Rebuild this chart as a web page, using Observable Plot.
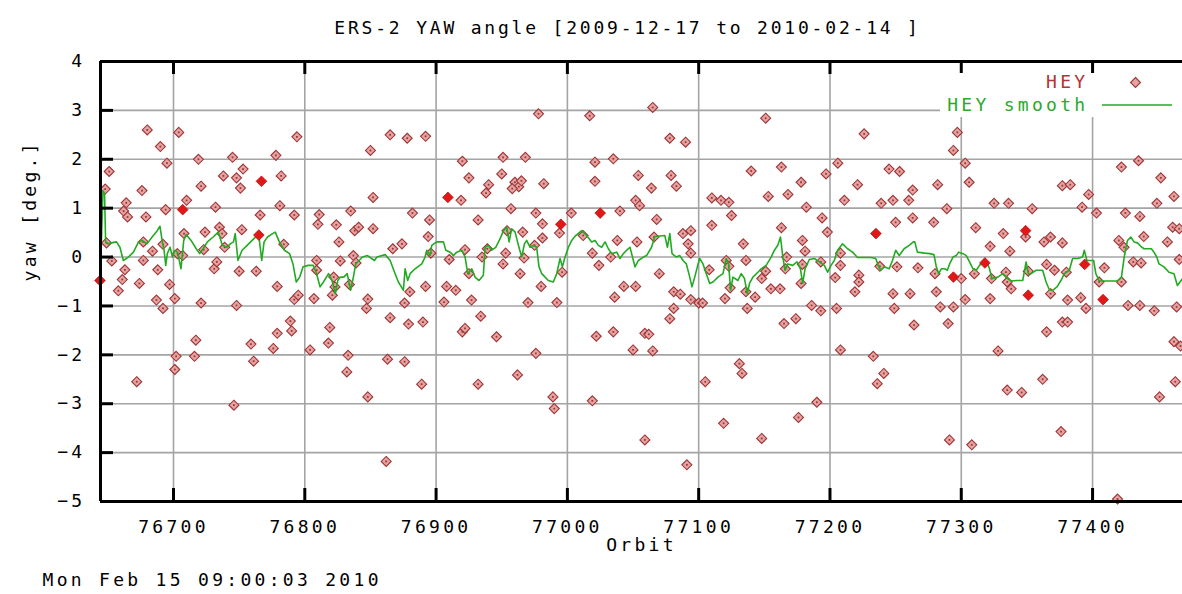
<!DOCTYPE html>
<html>
<head>
<meta charset="utf-8">
<script src="https://cdn.jsdelivr.net/npm/d3@7"></script>
<script src="https://cdn.jsdelivr.net/npm/@observablehq/plot@0.6"></script>
<style>
  html, body { margin: 0; padding: 0; background: #fff; }
  #chart { width: 1182px; height: 594px; overflow: hidden; }
</style>
</head>
<body>
<div id="chart"></div>
<script>
const titleText = "ERS-2 YAW angle [2009-12-17 to 2010-02-14 ]";
const xLabel = "Orbit";
const yLabel = "yaw [deg.]";
const stampText = "Mon Feb 15 09:00:03 2010";
const legendPoints = "HEY";
const legendSmooth = "HEY smooth";

const xTicks = [76700, 76800, 76900, 77000, 77100, 77200, 77300, 77400];
const yTicks = [-5, -4, -3, -2, -1, 0, 1, 2, 3, 4];
const xDomain = [76644.4, 77468.5];
const yDomain = [-5, 4];

// HEY points (orbit, yaw)
const heyOrbit = [
76680,76704,76690,76695,76651,76794,76719,76745,76778,76738,76748,76753,76782,76721,76751,76648,76676,76710,76664,76662,
76665,76679,76694,76732,76781,76766,76792,76708,76724,76735,76752,76784,76649,76677,76692,76684,76703,76707,76723,76739,
76737,76653,76677,76688,76663,76661,76658,76674,76697,76701,76687,76692,76721,76731,76733,76750,76763,76779,76748,76792,
76795,76717,76702,76716,76701,76672,76759,76761,76776,76779,76789,76790,76746,76804,76818,76819,76833,76832,76848,76850,
76852,76835,76811,76810,76824,76838,76841,76826,76852,76809,76827,76837,76839,76807,76848,76847,76822,76823,76821,76834,
76809,
76865,76878,76892,76882,76895,76894,76867,76874,76896,76880,76892,76876,76865,76879,76890,76863,76876,76889,76862,76978,
77017,76920,76951,76968,76925,76950,76940,76938,76960,76963,76965,76958,76982,76919,76957,76976,76932,76981,77003,77040,
77021,77035,77021,77054,77052,77055,76981,76966,76954,76975,76939,76922,76953,76910,76951,76967,76925,76935,76964,76996,
76994,77012,77019,77024,77033,77038,77053,76908,76915,76906,76927,76980,76970,76992,77043,77052,77036,76934,76920,76922,
76946,77022,77035,77050,77059,76976,76932,76962,76989,76990,77019,77059,
77065,77078,77090,77151,77226,77064,77079,77083,77068,77140,77163,77178,77153,77168,77197,77110,77117,77123,77125,77182,
77206,77221,77211,77245,77253,77239,77248,77260,77263,77194,77198,77110,77088,77094,77092,77094,77066,77163,77134,77179,
77181,77250,77263,77208,77070,77108,77121,77123,77136,77151,77148,77167,77166,77155,77162,77179,77178,77193,77124,77136,
77120,77143,77137,77081,77086,77094,77100,77103,77081,77078,77062,77065,77165,77174,77186,77193,77205,77204,77208,77219,
77222,77222,77238,77251,77248,77249,77261,77264,77208,77233,77241,77236,77131,77133,77105,77190,77176,77119,77148,77091,
77297,77294,77303,77306,77282,77289,77279,77311,77325,77336,77354,77377,77383,77397,77392,77403,77422,77435,77452,77462,
77449,77425,77436,77439,77461,77466,77457,77420,77424,77332,77349,77322,77337,77363,77368,77377,77267,77280,77300,77310,
77323,77334,77335,77338,77351,77365,77371,77380,77368,77409,77405,77422,77431,77437,77466,77281,77284,77294,77303,77322,
77381,77391,77395,77427,77436,77447,77464,77290,77365,77377,77381,77328,77462,77467,77362,77335,77346,77451,77463,77376,
77291,77308,77419
];
const heyYaw = [
2.60,2.55,2.26,1.92,1.75,2.46,2.00,2.04,2.08,1.66,1.62,1.80,1.66,1.45,1.41,1.39,1.36,1.16,1.11,0.94,
0.82,0.82,0.97,1.02,1.05,0.86,0.86,0.48,0.51,0.61,0.56,0.26,0.29,0.31,0.26,0.12,0.07,0.03,0.15,0.20,
0.48,-0.08,-0.07,-0.26,-0.26,-0.46,-0.69,-0.54,-0.56,-0.85,-0.88,-1.05,-0.94,-0.24,-0.10,-0.29,-0.29,-0.60,-0.99,-0.87,
-0.78,-1.70,-2.03,-2.03,-2.30,-2.55,-1.78,-2.13,-1.87,-1.56,-1.31,-1.51,-3.03,-1.90,-1.76,-1.44,-2.01,-2.35,-2.86,2.18,
1.22,0.94,0.87,0.67,0.66,0.54,0.61,0.31,0.58,-0.07,-0.08,0.03,-0.12,-0.85,-0.86,-1.05,-0.41,-0.61,-0.78,-0.56,
-0.27,
2.50,2.43,2.47,0.90,0.76,0.42,0.17,0.27,0.08,-0.71,-0.60,-0.94,-1.24,-1.37,-1.33,-2.09,-2.14,-2.60,-4.18,2.93,
2.89,1.96,2.04,2.04,1.62,1.70,1.48,1.31,1.53,1.44,1.56,1.40,1.50,1.16,0.99,0.90,0.76,0.68,0.90,0.94,
1.94,2.01,1.55,1.67,1.16,1.05,0.39,0.51,0.54,0.24,0.17,0.15,0.08,-0.05,-0.14,-0.02,-0.34,0.00,-0.34,-0.31,
0.49,0.44,0.08,-0.17,0.00,0.34,0.31,-0.60,-0.68,-0.92,-0.88,-0.60,-0.93,-0.93,-0.60,-0.60,-0.82,-1.21,-1.53,-1.46,
-1.63,-1.62,-1.53,-1.90,-1.56,-1.97,-2.60,-2.41,-2.86,-3.10,-2.94,-3.74,
3.06,2.43,2.35,2.84,2.52,1.41,1.67,1.45,0.77,1.76,1.84,1.53,1.24,1.28,1.70,1.21,1.16,1.12,0.85,1.02,
1.92,1.48,1.16,1.80,1.75,1.10,1.16,1.16,1.37,0.80,0.51,0.65,0.48,0.54,0.27,0.08,0.41,0.60,0.27,0.34,
0.12,0.71,0.80,0.08,-0.34,-0.26,-0.07,-0.19,-0.07,-0.29,-0.44,0.00,-0.24,-0.65,-0.65,-0.15,-0.54,-0.10,-0.63,-0.71,
-0.85,-0.82,-1.05,-0.71,-0.76,-0.87,-0.94,-0.94,-1.05,-1.26,-1.58,-1.92,-1.36,-1.26,-0.99,-1.10,-1.05,-0.42,-0.17,-0.71,
-0.37,-0.51,-0.19,-0.20,-0.75,-1.05,-0.75,-1.39,-1.90,-2.03,-2.38,-2.59,-2.18,-2.38,-2.55,-2.97,-3.28,-3.40,-3.71,-4.25,
2.55,2.18,1.92,1.53,1.48,0.99,0.71,0.60,1.10,1.10,0.99,1.46,1.48,1.28,1.02,0.90,1.84,1.97,1.62,1.24,
1.10,0.90,0.83,0.42,0.61,0.58,0.31,0.34,0.20,0.48,0.41,0.22,0.12,0.31,0.41,0.29,-0.22,-0.34,-0.44,-0.34,
-0.44,-0.31,-0.51,-0.65,-0.29,-0.15,-0.27,-0.31,-0.75,-0.22,-0.51,-0.51,-0.10,-0.12,-0.05,-0.71,-1.02,-1.02,-0.87,-0.85,
-0.88,-0.83,-1.05,-0.99,-0.99,-1.10,-1.02,-1.36,-1.53,-1.33,-1.33,-1.92,-1.73,-1.82,-2.50,-2.72,-2.77,-2.86,-2.55,-3.57,
-3.74,-3.84,-4.95
];

// solid (filled) HEY points
const filledOrbit = [76644,76707,76765,76767,76909,76995,77025,77235,77294,77318,77349,77351,77394,77408];
const filledYaw   = [-0.48,0.97,0.45,1.55,1.22,0.67,0.90,0.48,-0.41,-0.12,0.54,-0.78,-0.15,-0.87];

// HEY smooth line
const smoothOrbit = [
76644.2,76646.3,76647.5,76648.3,76650.1,76652.7,76656.6,76659.2,76661.8,76665.6,76669.5,76673.4,76676.0,76679.8,76683.7,
76687.6,76689.7,76691.5,76692.8,76694.1,76695.3,76697.4,76699.2,76701.0,76703.1,76705.7,76707.8,76709.6,76713.4,76717.3,
76719.9,76723.3,76725.8,76730.2,76734.1,76737.2,76740.6,76743.2,76745.7,76747.0,76749.1,76752.2,76756.1,76759.9,76762.5,
76765.1,76767.2,76769.0,76771.6,76775.5,76777.5,76780.6,76784.5,76788.4,76791.0,76793.5,76796.1,76798.7,76802.6,76806.5,
76809.0,76811.6,76814.2,76818.1,76820.7,76823.3,76825.1,76827.1,76829.7,76832.3,76834.9,76837.0,76838.8,76841.3,76843.9,
76847.8,76853.0,
76855.0,76861.2,76865.0,76868.8,76871.3,76875.1,76876.4,76878.4,76880.2,76884.0,76889.1,76891.6,76892.9,76895.4,76896.7,
76900.5,76905.6,76907.4,76910.7,76913.2,76915.7,76919.5,76922.1,76924.1,76927.2,76929.7,76932.7,76936.0,76937.3,76939.8,
76942.4,76945.4,76948.7,76951.3,76953.8,76955.6,76957.6,76960.2,76962.7,76965.2,76967.3,76969.0,76971.6,76974.1,76976.6,
76978.4,76980.5,76983.0,76985.5,76989.3,76991.9,76994.4,76996.2,76998.2,77000.8,77003.3,77006.3,77010.9,77014.7,77018.5,
77021.1,77023.6,77026.1,77028.7,77031.2,77033.8,77037.6,77040.1,77042.6,77045.2,77047.7,77051.5,77054.1,77057.9,
77060.3,77064.1,77066.6,77070.4,77074.2,77076.2,77078.0,77079.7,77083.0,77085.6,77088.1,77090.6,77093.2,77094.9,77097.0,
77099.0,77100.8,77103.3,77105.8,77108.4,77110.9,77114.7,77118.5,77121.0,77122.8,77124.3,77126.1,77129.9,77132.4,77134.9,
77137.0,77138.7,77141.3,77145.1,77147.6,77151.4,77155.2,77157.7,77160.3,77162.3,77164.1,77165.8,77167.8,77171.6,77174.9,
77177.5,77179.2,77181.0,77184.3,77188.1,77191.9,77195.7,77198.2,77200.8,77203.3,77205.8,77209.6,77213.4,77217.2,77221.0,
77224.8,77231.1,77234.9,77236.7,77238.7,77241.3,77245.1,77247.6,77250.1,77252.7,77256.5,77260.3,
77263.5,77264.6,77266.6,77272.2,77276.0,77279.2,77281.0,77282.8,77284.8,77287.3,77289.4,77291.1,77293.7,77296.2,77298.0,
77301.3,77303.8,77306.3,77308.9,77311.4,77313.9,77316.5,77319.0,77321.5,77323.3,77327.8,77331.6,77335.4,77338.0,77342.5,
77346.8,77349.4,77351.1,77353.2,77357.0,77362.0,77364.6,77367.1,77369.6,77372.9,77375.9,77378.5,77382.3,77384.8,77388.6,
77392.4,77393.7,77395.7,77397.5,77400.8,77402.5,77405.1,77408.9,77413.9,77419.0,77422.0,77424.1,77426.6,77429.1,77431.6,
77434.2,77436.7,77439.2,77442.3,77444.8,77446.8,77448.9,77450.6,77454.4,77458.2,77462.0,77464.6,77466.6,77468.6
];
const smoothYaw = [
-0.48,1.36,1.29,0.31,0.27,0.29,0.31,0.20,-0.07,0.00,0.10,0.31,0.34,0.27,0.41,
0.54,0.63,0.31,0.14,-0.17,0.07,0.20,0.00,0.14,0.10,-0.24,0.34,0.46,0.34,0.17,
0.07,0.20,0.31,0.41,0.51,0.24,0.20,0.27,0.31,0.48,-0.07,0.14,0.24,0.34,0.41,
0.41,-0.07,0.31,0.41,0.48,0.51,0.31,0.14,0.07,-0.14,-0.51,-0.41,-0.20,-0.17,-0.17,
-0.34,-0.61,-0.51,-0.34,-0.48,-0.75,-0.48,-0.41,-0.41,-0.34,-0.68,-0.41,-0.14,-0.07,0.00,
0.03,-0.07,
0.00,0.05,-0.07,-0.34,-0.51,-0.68,-0.24,-0.48,-0.34,-0.24,-0.14,0.00,0.14,0.03,0.24,
0.31,0.31,0.14,0.10,0.03,0.10,0.14,0.00,-0.34,-0.24,-0.41,-0.48,-0.37,0.20,0.24,
0.14,0.20,0.37,0.54,0.61,0.31,0.58,0.51,0.24,0.00,0.27,0.34,0.20,0.24,0.20,
-0.20,-0.34,-0.41,-0.48,-0.51,-0.34,-0.03,-0.20,0.00,0.20,0.34,0.44,0.54,0.44,0.31,
0.34,0.24,0.20,0.31,0.17,0.07,0.10,-0.03,0.07,0.14,0.20,-0.20,-0.07,0.00,
0.03,0.20,0.42,0.43,0.44,0.20,0.48,0.07,0.00,0.03,-0.07,-0.14,-0.41,-0.61,-0.41,
-0.20,-0.03,-0.14,-0.34,-0.54,-0.51,-0.41,-0.34,-0.03,-0.14,-0.68,-0.41,-0.48,-0.34,-0.44,
-0.75,-0.54,-0.41,-0.31,-0.24,-0.17,0.00,0.14,0.24,0.41,0.00,-0.27,-0.14,-0.17,-0.10,
-0.24,-0.54,-0.24,-0.05,-0.03,-0.10,-0.17,-0.31,-0.17,-0.07,0.14,0.27,0.17,0.10,-0.01,
-0.01,-0.01,-0.03,-0.17,-0.27,-0.20,-0.24,-0.07,0.14,0.03,0.17,0.24,
0.31,0.31,0.10,0.08,0.07,0.05,-0.20,-0.34,-0.24,-0.24,-0.27,-0.14,0.00,0.03,0.10,
0.07,0.03,-0.10,-0.24,-0.27,-0.17,-0.10,-0.07,-0.24,-0.44,-0.41,-0.34,-0.44,-0.49,-0.48,
-0.48,-0.10,-0.34,-0.34,-0.27,-0.27,-0.51,-0.67,-0.68,-0.61,-0.48,-0.34,-0.27,-0.03,-0.03,
0.00,0.14,-0.07,-0.07,-0.07,-0.34,-0.49,-0.49,-0.49,-0.49,-0.41,0.00,0.34,0.41,0.31,
0.29,0.22,0.17,0.17,0.17,0.10,0.00,-0.14,-0.20,-0.31,-0.34,-0.58,-0.51,-0.44
];

const hey = heyOrbit.map((o, i) => ({orbit: o, yaw: heyYaw[i]}));
const heyFilled = filledOrbit.map((o, i) => ({orbit: o, yaw: filledYaw[i]}));
const smooth = smoothOrbit.map((o, i) => ({orbit: o, yaw: smoothYaw[i]}));

const FONT = "DejaVu Sans Mono";
const FS = 18;
const LS = "3.3px";
const pointFill = "#e4a4a4";
const pointStroke = "#a03434";
const filledColor = "#e01818";
const smoothColor = "#22aa22";
const gridColor = "#a4a4a4";

const chart = Plot.plot({
  width: 1182,
  height: 594,
  marginLeft: 100,
  marginRight: 0,
  marginTop: 61,
  marginBottom: 93,
  style: {fontFamily: FONT, fontSize: FS + "px", background: "#fff"},
  x: {domain: xDomain, ticks: xTicks, tickFormat: "d"},
  y: {domain: yDomain, ticks: yTicks, tickFormat: "d"},
  marks: [
    Plot.gridX(xTicks, {stroke: gridColor, strokeOpacity: 1, strokeWidth: 1.6}),
    Plot.gridY(yTicks, {stroke: gridColor, strokeOpacity: 1, strokeWidth: 1.6}),
    Plot.axisX(xTicks, {anchor: "bottom", tickSize: 0, tickPadding: 19, tickFormat: "d", label: null}),
    Plot.axisY(yTicks, {anchor: "left", tickSize: 0, tickPadding: 15, tickFormat: "d", label: null}),
    Plot.dot(hey, {x: "orbit", y: "yaw", symbol: "diamond2", r: 4.5, fill: pointFill, stroke: pointStroke, strokeWidth: 1.1}),
    Plot.dot(hey, {x: "orbit", y: "yaw", symbol: "square", r: 1.0, fill: pointStroke}),
    Plot.line(smooth, {x: "orbit", y: "yaw", stroke: smoothColor, strokeWidth: 1.6, curve: "linear"}),
    Plot.dot(heyFilled, {x: "orbit", y: "yaw", symbol: "diamond2", r: 4.8, fill: filledColor, stroke: "#c01010", strokeWidth: 0.8}),
    // frame: bottom, top, left (right side lies beyond the image)
    Plot.ruleY(yDomain, {stroke: "black", strokeWidth: 3}),
    Plot.ruleX([xDomain[0]], {stroke: "black", strokeWidth: 3}),
    // inward tick marks
    Plot.tickX(xTicks, {x: d => d, insetTop: 427, stroke: "black", strokeWidth: 3}),
    Plot.tickX(xTicks, {x: d => d, insetBottom: 427, stroke: "black", strokeWidth: 3}),
    Plot.tickY(yTicks, {y: d => d, insetRight: 1069, stroke: "black", strokeWidth: 3}),
    // titles
    Plot.text([titleText], {frameAnchor: "top", lineAnchor: "middle", dx: -14, dy: -33}),
    Plot.text([xLabel], {frameAnchor: "bottom", lineAnchor: "middle", dy: 44}),
    Plot.text([yLabel], {frameAnchor: "left", lineAnchor: "middle", dx: -70, rotate: -90}),
    Plot.text([stampText], {frameAnchor: "bottom-left", lineAnchor: "middle", dx: -58, dy: 79, textAnchor: "start"}),
    // legend text and marker
    Plot.text([legendPoints], {frameAnchor: "top-right", lineAnchor: "middle", dx: -94, dy: 21, textAnchor: "end", fill: "#b23434"}),
    Plot.text([legendSmooth], {frameAnchor: "top-right", lineAnchor: "middle", dx: -94, dy: 44, textAnchor: "end", fill: "#2aaa2a"}),
    Plot.dot([0], {frameAnchor: "top-right", dx: -47, dy: 21, symbol: "diamond2", r: 4.5, fill: pointFill, stroke: pointStroke, strokeWidth: 1.1})
  ]
});

const svg = d3.select(chart);
svg.selectAll("text").style("letter-spacing", LS);
svg.selectAll("text").filter(function () { return this.textContent === titleText; }).style("letter-spacing", "2.8px");

const sx = chart.scale("x"), sy = chart.scale("y");
const yTop = sy.apply(yDomain[1]);
const xRight = sx.apply(xDomain[1]);
// white box behind the legend (below legend text)
svg.insert("rect", "g[aria-label='text']").attr("x", xRight - 242).attr("y", yTop + 12).attr("width", 242).attr("height", 44).attr("fill", "#fff");
svg.append("line").attr("x1", xRight - 80).attr("x2", xRight - 10).attr("y1", yTop + 44).attr("y2", yTop + 44)
  .attr("stroke", smoothColor).attr("stroke-width", 1.6);

document.getElementById("chart").appendChild(chart);
</script>
</body>
</html>
